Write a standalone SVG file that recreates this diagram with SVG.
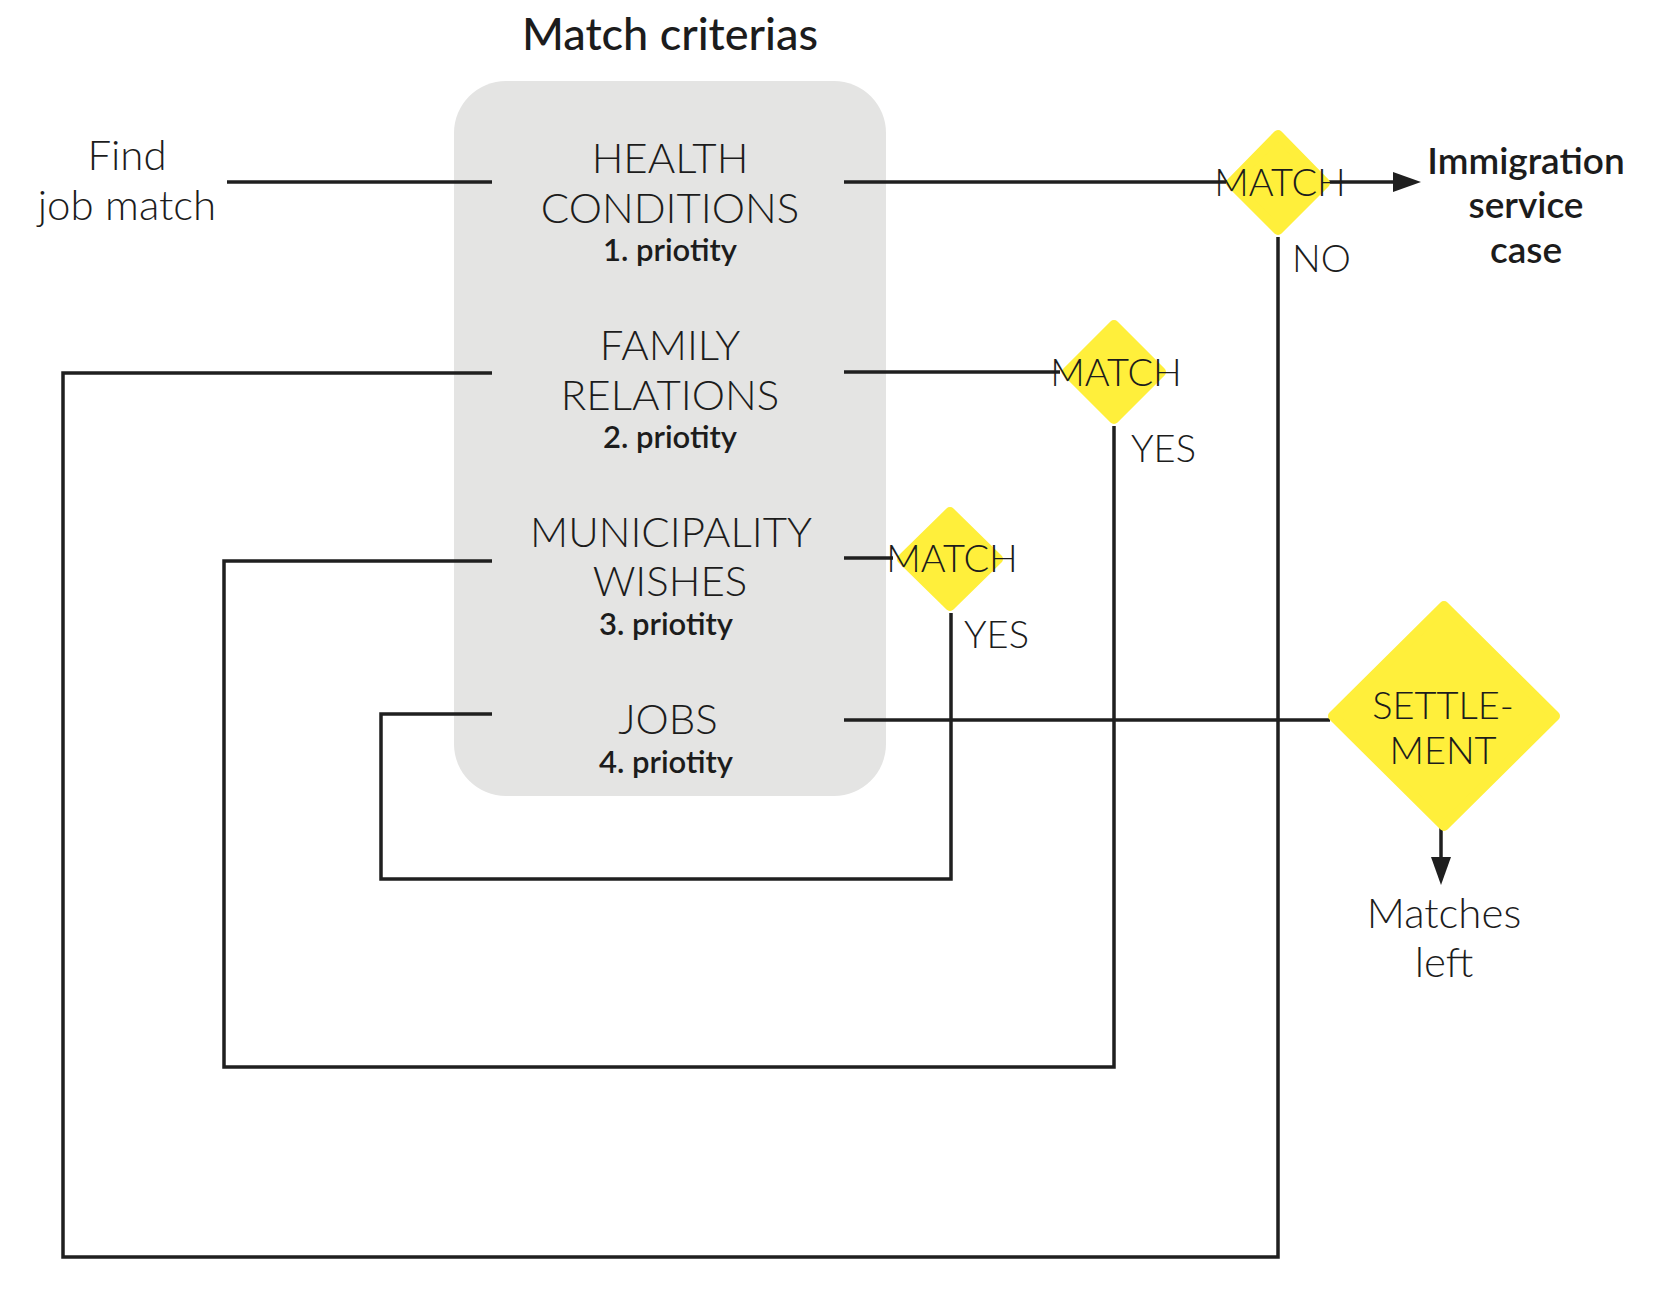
<svg xmlns="http://www.w3.org/2000/svg" width="1662" height="1302" viewBox="0 0 1662 1302">
<style>
text{font-family:Lato,"Open Sans","Liberation Sans",sans-serif;fill:#1c1c1c}
.lbl{font-size:42px;font-weight:300;text-anchor:middle}
.pri{font-size:31px;font-weight:600;text-anchor:middle}
.m{font-size:38px;font-weight:300;text-anchor:middle}
.yn{font-size:38px;font-weight:300}
.ttl{font-size:45px;font-weight:500;text-anchor:middle}
.imm{font-size:37px;font-weight:600;text-anchor:middle}
.dia{fill:#ffef3b;stroke:#ffef3b;stroke-width:10;stroke-linejoin:round}
.c{fill:none;stroke:#1f1f1f;stroke-width:3.5}
</style>
<defs>
<marker id="arr" markerUnits="userSpaceOnUse" markerWidth="28" markerHeight="20" refX="0" refY="10" orient="auto">
<path d="M0,0 L28,10 L0,20 z" fill="#1f1f1f"/>
</marker>
</defs>
<text class="ttl" x="670" y="50">Match criterias</text>
<g id="criteria-box">
<rect x="454" y="81" width="432" height="715" rx="52" ry="52" fill="#e4e4e3"/>
</g>
<g id="connectors">
<path class="c" d="M227 182 H492"/>
<path class="c" d="M844 182 H1393" marker-end="url(#arr)"/>
<path class="c" d="M1278 237 V1257 H63 V373 H492"/>
<path class="c" d="M844 372 H1060"/>
<path class="c" d="M1114 426 V1067 H224 V561 H492"/>
<path class="c" d="M844 558 H893"/>
<path class="c" d="M951 613 V879 H381 V714 H492"/>
<path class="c" d="M844 720 H1330"/>
<path class="c" d="M1441 828 V857" marker-end="url(#arr)"/>
</g>
<g id="find">
<text class="lbl" x="127" y="170">Find</text>
<text class="lbl" x="127" y="220">job match</text>
</g>
<g id="health">
<text class="lbl" x="670" y="173">HEALTH</text>
<text class="lbl" x="670" y="223">CONDITIONS</text>
<text class="pri" x="670" y="261">1. priotity</text>
</g>
<g id="family">
<text class="lbl" x="670" y="360">FAMILY</text>
<text class="lbl" x="670" y="410">RELATIONS</text>
<text class="pri" x="670" y="448">2. priotity</text>
</g>
<g id="municipality">
<text class="lbl" x="671" y="547">MUNICIPALITY</text>
<text class="lbl" x="670" y="596">WISHES</text>
<text class="pri" x="666" y="635">3. priotity</text>
</g>
<g id="jobs">
<text class="lbl" x="668" y="734">JOBS</text>
<text class="pri" x="666" y="773">4. priotity</text>
</g>
<g id="match1">
<polygon class="dia" points="1278,135 1325,183 1278,230 1231,183"/>
<text class="m" x="1280" y="196">MATCH</text>
</g>
<g id="match2">
<polygon class="dia" points="1114,325 1161,372 1114,419 1067,372"/>
<text class="m" x="1116" y="386">MATCH</text>
</g>
<g id="match3">
<polygon class="dia" points="950,512 998,559 950,606 902,559"/>
<text class="m" x="952" y="572">MATCH</text>
</g>
<g id="settlement">
<polygon class="dia" points="1444,606 1555,716 1444,826 1333,716"/>
<text class="m" x="1443" y="719" style="font-size:38px">SETTLE-</text>
<text class="m" x="1443" y="764" style="font-size:38px">MENT</text>
</g>
<g id="labels">
<text class="yn" x="1292" y="272">NO</text>
<text class="yn" x="1131" y="462">YES</text>
<text class="yn" x="964" y="648">YES</text>
</g>
<g id="immigration">
<text class="imm" x="1526" y="174">Immigration</text>
<text class="imm" x="1526" y="218">service</text>
<text class="imm" x="1526" y="263">case</text>
</g>
<g id="matches-left">
<text class="lbl" x="1444" y="928">Matches</text>
<text class="lbl" x="1444" y="977">left</text>
</g>
</svg>
